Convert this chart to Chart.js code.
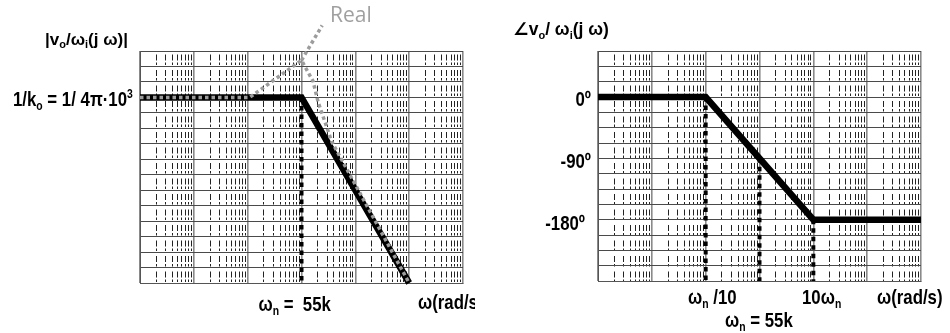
<!DOCTYPE html>
<html>
<head>
<meta charset="utf-8">
<script src="https://cdn.jsdelivr.net/npm/chart.js@4.4.1/dist/chart.umd.min.js"></script>
<style>
  body { margin: 0; background: #fff; }
  .painel { position: absolute; top: 0; width: 475px; height: 333px; }
  #painelModulo { left: 0; }
  #painelFase { left: 475px; }
</style>
</head>
<body>
<div class="painel" id="painelModulo"><canvas id="graficoModulo"></canvas></div>
<div class="painel" id="painelFase"><canvas id="graficoFase"></canvas></div>
<script>
// Eixo de frequência (rad/s): papel semilog de 6 décadas, centrado em wn = 55k
const omegaN = 55000;
const decadas = [55, 550, 5500, 55000, 550000, 5500000, 55000000];
const fatoresMenores = [2, 3, 4, 5, 6, 7, 8, 9];

// Módulo: assíntotas (dB relativos a 1/ko) e curva real com pico de ressonância
const moduloFreq = [55, 55000, 5500000];
const moduloDb = [0, 0, -80];
const realFreq = [55, 6000, 55000, 90000, 112000, 200000, 5500000];
const realDb = [0, 0, 16, 7, -2, -19, -80];
const setaRealFreq = [55000, 133000];
const setaRealDb = [16, 31];
const moduloLimites = [-80, 20]; // 15 linhas horizontais

// Fase (graus)
const faseFreq = [55, 5500, 550000, 55000000];
const faseGraus = [0, 0, -180, -180];
const faseLimites = [-270, 67.5]; // 15 linhas de 22.5º
const faseVerticais = [
  { freq: 5500, de: 0 },
  { freq: 55000, de: -90 },
  { freq: 550000, de: -180 }
];

const FONTE = '"Liberation Sans", Arial, "DejaVu Sans", sans-serif';

function pontos(xs, ys) {
  return xs.map((x, i) => ({ x: x, y: ys[i] }));
}

function linhasHorizontais(limites) {
  const lista = [];
  for (let i = 0; i <= 15; i++) {
    lista.push({ value: limites[0] + (limites[1] - limites[0]) * i / 15 });
  }
  return lista;
}

function ticksMenores() {
  const lista = [];
  decadas.slice(0, -1).forEach(d => {
    fatoresMenores.forEach(k => lista.push({ value: d * k }));
  });
  return lista;
}

/**
 * Escreve um texto com partes normais, subscritas e sobrescritas.
 * partes: [[texto, 'n' | 'sub' | 'sup'], ...]
 * estreito: fator de compressão horizontal (a fonte original é condensada)
 */
function escrever(ctx, x, y, partes, opts) {
  opts = opts || {};
  const tam = opts.tamanho || 21;
  const peso = opts.peso || 'bold';
  const familia = opts.familia || FONTE;
  const estreito = opts.estreito || 0.8;
  ctx.save();
  ctx.fillStyle = opts.cor || '#000';
  ctx.textBaseline = 'alphabetic';
  ctx.textAlign = 'left';
  const medidas = partes.map(p => {
    const t = p[1] === 'n' ? tam : Math.round(tam * 0.62);
    ctx.font = peso + ' ' + t + 'px ' + familia;
    return { texto: p[0], tipo: p[1], fonte: ctx.font, largura: ctx.measureText(p[0]).width };
  });
  const total = medidas.reduce((s, m) => s + m.largura, 0) * estreito;
  ctx.translate(opts.direita ? x - total : x, y);
  ctx.scale(estreito, 1);
  let cx = 0;
  medidas.forEach(m => {
    ctx.font = m.fonte;
    let dy = 0;
    if (m.tipo === 'sub') dy = tam * 0.2;
    if (m.tipo === 'sup') dy = -tam * 0.4;
    ctx.fillText(m.texto, cx, dy);
    cx += m.largura;
  });
  ctx.restore();
}

function eixos(limitesY) {
  return {
    x: {
      type: 'logarithmic',
      min: decadas[0],
      max: decadas[decadas.length - 1],
      afterBuildTicks: s => { s.ticks = decadas.map(v => ({ value: v })); },
      ticks: { display: false },
      grid: { color: '#8a8a8a', lineWidth: 1.6, drawTicks: false },
      border: { color: '#555', width: 1 }
    },
    xMenor: {
      type: 'logarithmic',
      axis: 'x',
      position: 'bottom',
      min: decadas[0],
      max: decadas[decadas.length - 1],
      afterBuildTicks: s => { s.ticks = ticksMenores(); },
      ticks: { display: false },
      grid: { color: '#222', lineWidth: 1, drawTicks: false },
      border: { display: false, dash: [6, 2, 2.5, 5], dashOffset: 12 }
    },
    y: {
      type: 'linear',
      min: limitesY[0],
      max: limitesY[1],
      afterBuildTicks: s => { s.ticks = linhasHorizontais(limitesY); },
      ticks: { display: false },
      grid: { color: '#4a4a4a', lineWidth: 1, drawTicks: false },
      border: { color: '#555', width: 1 }
    }
  };
}

function serie(dados, cor, largura, tracejado) {
  return {
    data: dados,
    borderColor: cor,
    borderWidth: largura,
    borderDash: tracejado || [],
    borderJoinStyle: 'miter',
    borderCapStyle: 'butt',
    pointRadius: 0,
    tension: 0,
    fill: false,
    clip: false
  };
}

function opcoesBase(padding, limitesY) {
  return {
    responsive: true,
    maintainAspectRatio: false,
    animation: false,
    layout: { padding: padding },
    plugins: { legend: { display: false }, tooltip: { enabled: false } },
    scales: eixos(limitesY)
  };
}

// --- Gráfico de módulo ---
const textosModulo = {
  id: 'textosModulo',
  afterDraw(chart) {
    const ctx = chart.ctx;
    escrever(ctx, 45, 45, [['|v', 'n'], ['o', 'sub'], ['/ω', 'n'], ['i', 'sub'], ['(j ω)|', 'n']], { tamanho: 17, estreito: 1 });
    escrever(ctx, 13, 106, [['1/k', 'n'], ['o', 'sub'], [' = 1/ 4π·10', 'n'], ['3', 'sup']]);
    const xn = chart.scales.x.getPixelForValue(omegaN);
    escrever(ctx, xn - 43, 311, [['ω', 'n'], ['n', 'sub'], [' =  55k', 'n']]);
    escrever(ctx, 418, 309, [['ω(rad/s)', 'n']]);
    escrever(ctx, 330, 22, [['Real', 'n']], { tamanho: 21, peso: 'normal', familia: '"Open Sans", sans-serif', cor: '#a0a0a0', estreito: 1 });
  }
};

new Chart(document.getElementById('graficoModulo'), {
  type: 'line',
  data: {
    datasets: [
      serie(pontos(realFreq, realDb), '#9c9c9c', 3.5, [3.5, 3]),
      serie(pontos(setaRealFreq, setaRealDb), '#9c9c9c', 3.5, [3.5, 3]),
      serie(pontos([omegaN, omegaN], [0, moduloLimites[0]]), '#000', 4, [4.5, 4]),
      serie(pontos(moduloFreq, moduloDb), '#000', 6.5)
    ]
  },
  options: opcoesBase({ left: 140, right: 12, top: 51, bottom: 50 }, moduloLimites),
  plugins: [textosModulo]
});

// --- Gráfico de fase ---
const textosFase = {
  id: 'textosFase',
  afterDraw(chart) {
    const ctx = chart.ctx;
    const ey = chart.scales.y;
    escrever(ctx, 38, 35, [['∠v', 'n'], ['o', 'sub'], ['/ ω', 'n'], ['i', 'sub'], ['(j ω)', 'n']], { tamanho: 17.5, estreito: 1 });
    escrever(ctx, 116, ey.getPixelForValue(0) + 8.5, [['0º', 'n']], { direita: true });
    escrever(ctx, 116, ey.getPixelForValue(-90) + 10, [['-90º', 'n']], { direita: true });
    escrever(ctx, 110, ey.getPixelForValue(-180) + 10, [['-180º', 'n']], { direita: true });
    escrever(ctx, 213, 304, [['ω', 'n'], ['n', 'sub'], [' /10', 'n']]);
    escrever(ctx, 327, 304, [['10ω', 'n'], ['n', 'sub']]);
    escrever(ctx, 402, 304, [['ω(rad/s)', 'n']]);
    escrever(ctx, 250, 327, [['ω', 'n'], ['n', 'sub'], [' = 55k', 'n']]);
  }
};

new Chart(document.getElementById('graficoFase'), {
  type: 'line',
  data: {
    datasets: [
      ...faseVerticais.map(v => serie(pontos([v.freq, v.freq], [v.de, faseLimites[0]]), '#000', 4, [4.5, 4])),
      serie(pontos(faseFreq, faseGraus), '#000', 6.5)
    ]
  },
  options: opcoesBase({ left: 123, right: 29, top: 51, bottom: 52 }, faseLimites),
  plugins: [textosFase]
});
</script>
</body>
</html>
